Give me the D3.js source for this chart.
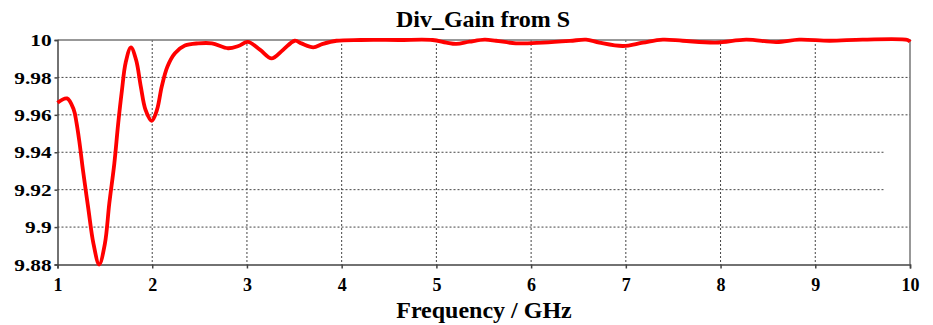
<!DOCTYPE html>
<html>
<head>
<meta charset="utf-8">
<script src="https://cdn.jsdelivr.net/npm/d3@7"></script>
<style>
	body { margin: 0; background: #fff; }
</style>
</head>
<body>
<div class="svg-container"></div>
<script>
// Frequency (GHz) and gain
var freq = [1, 1.10, 1.17, 1.20, 1.23, 1.27, 1.325, 1.38, 1.44, 1.50, 1.547, 1.60, 1.64, 1.68, 1.72, 1.775,
	1.83, 1.88, 1.93, 1.995, 2.05, 2.10, 2.16, 2.24, 2.345, 2.485, 2.63, 2.80, 2.91, 3.01, 3.14, 3.26,
	3.38, 3.505, 3.575, 3.70, 3.80, 3.945, 4.2, 4.6, 4.96, 5.105, 5.21, 5.35, 5.51, 5.63, 5.84, 6.125,
	6.41, 6.58, 6.72, 6.97, 7.18, 7.39, 7.60, 7.95, 8.27, 8.59, 8.83, 9.15, 9.50, 9.975, 10];
var gain = [9.9665, 9.9688, 9.963, 9.956, 9.946, 9.930, 9.910, 9.891, 9.880, 9.891, 9.9127, 9.934, 9.955, 9.973, 9.988, 9.9961,
	9.9893, 9.975, 9.9626, 9.9568, 9.9626, 9.975, 9.9857, 9.9929, 9.997, 9.9982, 9.9982, 9.9956, 9.9968, 9.9990, 9.9947, 9.9902,
	9.9947, 9.9996, 9.9982, 9.9961, 9.9979, 9.9996, 10.0, 10.0, 10.0, 9.9986, 9.9979, 9.9991, 10.0002, 9.9996, 9.9982, 9.9986,
	9.9995, 10.0002, 9.9986, 9.9968, 9.9986, 10.0002, 9.9996, 9.9986, 10.0002, 9.9989, 10.0002, 9.9996, 10.0002, 10.0, 9.999];

var xTicks = [1, 2, 3, 4, 5, 6, 7, 8, 9, 10];
var yTicks = [9.88, 9.9, 9.92, 9.94, 9.96, 9.98, 10];
var shortGrid = [9.92, 9.94];

var width = 933;
var height = 325;
var margin = { top: 40, right: 23, bottom: 60.5, left: 57.5 };

var svg = d3.select('.svg-container')
	.append('svg')
	.attr('width', width)
	.attr('height', height)
	.attr('font-family', 'Liberation Serif')
	.attr('font-weight', 'bold');

// Titles first
svg.append('text')
	.attr('x', 483)
	.attr('y', 27)
	.attr('text-anchor', 'middle')
	.attr('font-size', 24)
	.text('Div_Gain from S');

svg.append('text')
	.attr('x', 484)
	.attr('y', 318)
	.attr('text-anchor', 'middle')
	.attr('font-size', 24)
	.text('Frequency / GHz');

// Set up scales
var xScale = d3.scaleLinear()
	.domain([1, 10])
	.range([margin.left, width - margin.right]);

var yScale = d3.scaleLinear()
	.domain([9.88, 10])
	.range([height - margin.bottom, margin.top]);

// Axes
var xAxis = d3.axisBottom(xScale)
	.tickValues(xTicks)
	.tickSize(4)
	.tickPadding(9.5)
	.tickFormat(d3.format('d'));

var yAxis = d3.axisLeft(yScale)
	.tickValues(yTicks)
	.tickSize(3)
	.tickPadding(1.8)
	.tickFormat(function(d) { return +d.toFixed(2); });

var gx = svg.append('g')
	.attr('transform', 'translate(0,' + yScale(9.88) + ')')
	.call(xAxis)
	.attr('font-family', null)
	.attr('font-size', 18);
gx.selectAll('text').attr('fill', '#000');

var gy = svg.append('g')
	.attr('transform', 'translate(' + xScale(1) + ',0)')
	.call(yAxis)
	.attr('font-family', null)
	.attr('font-size', 17.5);
gy.selectAll('text')
	.attr('fill', '#000')
	.attr('transform', 'scale(1.22,1)');

// Grid lines
svg.append('g')
	.selectAll('line')
	.data(xTicks.slice(1, -1))
	.enter()
	.append('line')
	.attr('x1', function(d) { return xScale(d); })
	.attr('x2', function(d) { return xScale(d); })
	.attr('y1', yScale(10))
	.attr('y2', yScale(9.88))
	.attr('stroke', '#444')
	.attr('stroke-width', 1)
	.attr('stroke-dasharray', '2,2');

svg.append('g')
	.selectAll('line')
	.data(yTicks.slice(1, -1))
	.enter()
	.append('line')
	.attr('x1', xScale(1))
	.attr('x2', function(d) {
		return shortGrid.indexOf(d) >= 0 ? xScale(9.72) : xScale(10);
	})
	.attr('y1', function(d) { return yScale(d); })
	.attr('y2', function(d) { return yScale(d); })
	.attr('stroke', '#444')
	.attr('stroke-width', 1)
	.attr('stroke-dasharray', '2,2');

// Frame (top and right)
svg.append('path')
	.attr('d', 'M' + xScale(1) + ',' + yScale(10) + 'H' + xScale(10) + 'V' + yScale(9.88))
	.attr('fill', 'none')
	.attr('stroke', '#777')
	.attr('stroke-width', 1.5);

// Axis lines on top of the grid
gx.selectAll('line, path').attr('stroke', '#444').attr('stroke-width', 1.5);
gy.selectAll('line, path').attr('stroke', '#444').attr('stroke-width', 1.5);
gx.raise();
gy.raise();

// Curve
var line = d3.line()
	.x(function(d, i) { return xScale(freq[i]); })
	.y(function(d) { return yScale(d); })
	.curve(d3.curveCatmullRom.alpha(0.5));

svg.append('path')
	.datum(gain)
	.attr('fill', 'none')
	.attr('stroke', '#ff0000')
	.attr('stroke-width', 3.8)
	.attr('stroke-linejoin', 'round')
	.attr('d', line);
</script>
</body>
</html>
